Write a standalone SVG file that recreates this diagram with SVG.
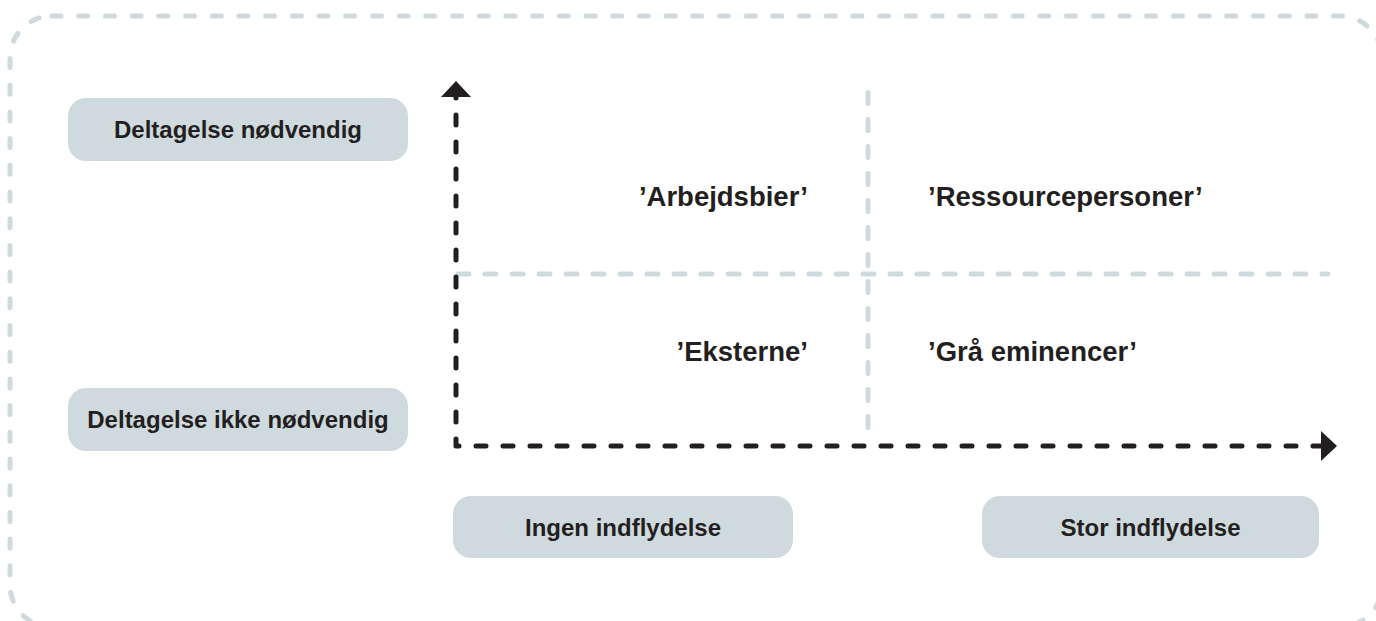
<svg xmlns="http://www.w3.org/2000/svg" width="1376" height="621" viewBox="0 0 1376 621">
<style>
.box{fill:#cfdadf}
.lbl{font-family:"Liberation Sans",Arial,sans-serif;font-weight:bold;font-size:24px;fill:#231f20;text-anchor:middle}
.q{font-family:"Liberation Sans",Arial,sans-serif;font-weight:bold;font-size:27.5px;fill:#231f20}
.gray{fill:none;stroke:#cfdadf;stroke-width:5;stroke-linecap:round}
.axis{fill:none;stroke:#231f20;stroke-width:5;stroke-linecap:round;stroke-linejoin:round;stroke-dasharray:10 17}
</style>
<defs>
<marker id="arr" markerUnits="userSpaceOnUse" viewBox="0 0 16 30" refX="0" refY="15" markerWidth="16" markerHeight="30" orient="auto-start-reverse">
<path d="M0,0 L16,15 L0,30 z" fill="#231f20"/>
</marker>
</defs>
<rect id="frame" x="10" y="16" width="1372" height="611" rx="42" class="gray" style="stroke-dasharray:9 17.7"/>
<g id="grid">
<path d="M868,92.5 V442" class="gray" style="stroke-dasharray:11 16"/>
<path d="M458,274 H1328" class="gray" style="stroke-dasharray:11 16"/>
</g>
<g id="connectors">
<path d="M456,97 V446 H1321" class="axis" style="stroke-dashoffset:9" marker-start="url(#arr)" marker-end="url(#arr)"/>
</g>
<g id="n-deltagelse-noedvendig">
<rect class="box" x="68" y="98" width="340" height="63" rx="18"/>
<text class="lbl" x="238" y="138">Deltagelse nødvendig</text>
</g>
<g id="n-deltagelse-ikke-noedvendig">
<rect class="box" x="68" y="388" width="340" height="63" rx="18"/>
<text class="lbl" x="238" y="428">Deltagelse ikke nødvendig</text>
</g>
<g id="n-ingen-indflydelse">
<rect class="box" x="453" y="496" width="340" height="62" rx="18"/>
<text class="lbl" x="623" y="536">Ingen indflydelse</text>
</g>
<g id="n-stor-indflydelse">
<rect class="box" x="982" y="496" width="337" height="62" rx="18"/>
<text class="lbl" x="1150.5" y="536">Stor indflydelse</text>
</g>
<g id="q-arbejdsbier"><text class="q" x="808" y="206" text-anchor="end">’Arbejdsbier’</text></g>
<g id="q-ressourcepersoner"><text class="q" x="928" y="206">’Ressourcepersoner’</text></g>
<g id="q-eksterne"><text class="q" x="808" y="361" text-anchor="end">’Eksterne’</text></g>
<g id="q-graa-eminencer"><text class="q" x="928" y="361">’Grå eminencer’</text></g>
</svg>
